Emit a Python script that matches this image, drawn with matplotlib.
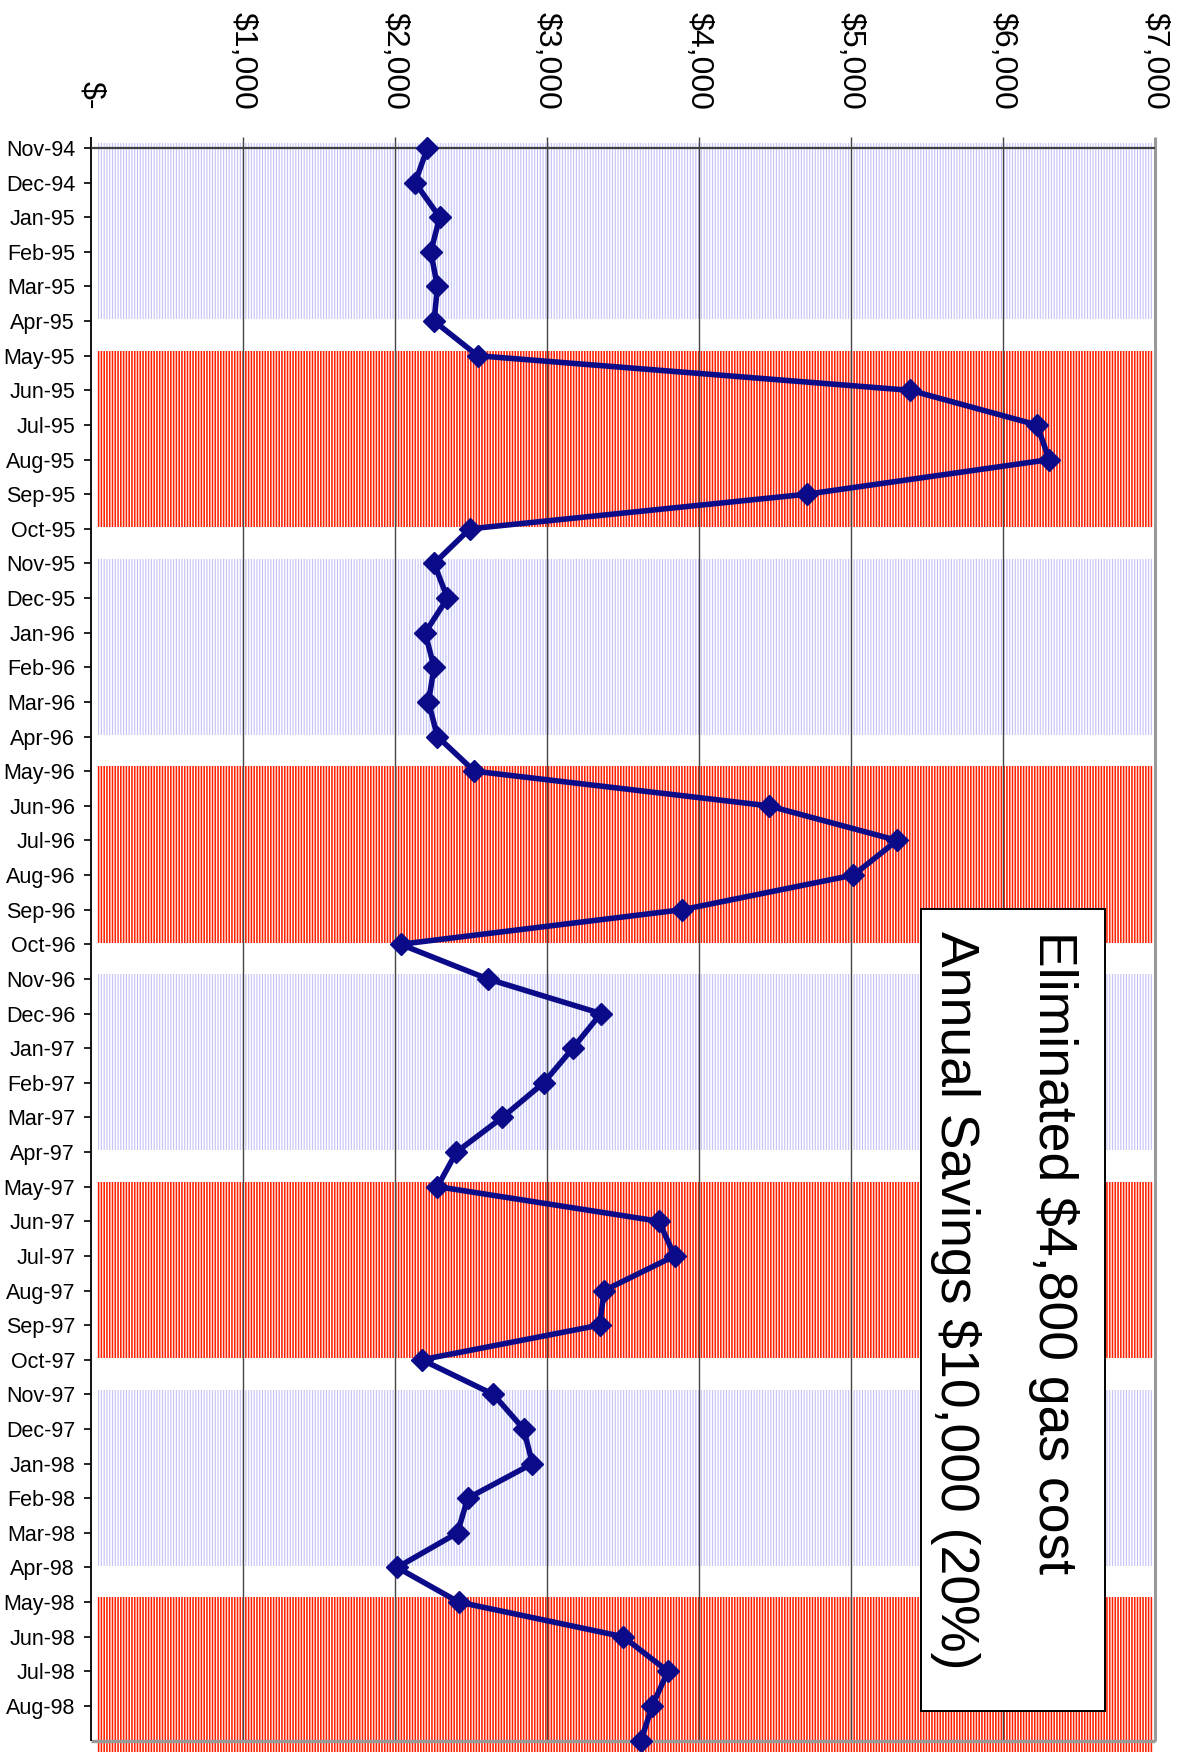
import numpy as np
import matplotlib.pyplot as plt
from matplotlib.patches import Rectangle

plt.rcParams['font.family'] = ['Liberation Sans', 'DejaVu Sans']
plt.rcParams['hatch.linewidth'] = 1.1

# monthly gas cost, Nov-94 .. Sep-98 (last one sits on the cut-off edge)
months = ['Nov-94', 'Dec-94',
          'Jan-95', 'Feb-95', 'Mar-95', 'Apr-95', 'May-95', 'Jun-95',
          'Jul-95', 'Aug-95', 'Sep-95', 'Oct-95', 'Nov-95', 'Dec-95',
          'Jan-96', 'Feb-96', 'Mar-96', 'Apr-96', 'May-96', 'Jun-96',
          'Jul-96', 'Aug-96', 'Sep-96', 'Oct-96', 'Nov-96', 'Dec-96',
          'Jan-97', 'Feb-97', 'Mar-97', 'Apr-97', 'May-97', 'Jun-97',
          'Jul-97', 'Aug-97', 'Sep-97', 'Oct-97', 'Nov-97', 'Dec-97',
          'Jan-98', 'Feb-98', 'Mar-98', 'Apr-98', 'May-98', 'Jun-98',
          'Jul-98', 'Aug-98', 'Sep-98']
gas_cost = [2213, 2132,
            2294, 2235, 2279, 2257, 2544, 5391,
            6223, 6304, 4707, 2492, 2257, 2345,
            2198, 2257, 2220, 2279, 2522, 4457,
            5303, 5016, 3890, 2036, 2610, 3354,
            3170, 2978, 2706, 2404, 2279, 3736,
            3839, 3376, 3346, 2176, 2647, 2846,
            2904, 2478, 2411, 2014, 2419, 3501,
            3795, 3692, 3618]
winter_months = ['Nov', 'Dec', 'Jan', 'Feb', 'Mar', 'Apr']
value_ticks = [0, 1000, 2000, 3000, 4000, 5000, 6000, 7000]
value_labels = ['$-', '$1,000', '$2,000', '$3,000', '$4,000',
                '$5,000', '$6,000', '$7,000']
note_lines = ['Eliminated $4,800 gas cost', 'Annual Savings $10,000 (20%)']

LINE_COL = '#0b0b8a'
SUMMER_COL = '#ff2200'
WINTER_COL = '#c2c2f6'

idx = np.arange(len(months))
n = len(months)
y_top = -0.318
y_bot = n - 1 + 0.33

fig = plt.figure(figsize=(11.79, 17.52), dpi=100)
ax = fig.add_axes([0.0772, 0.0, 0.9025, 0.9218])
ax.set_xlim(value_ticks[0], value_ticks[-1])
ax.set_ylim(y_bot, y_top)
for s in ax.spines.values():
    s.set_visible(False)

# striped season bands (winter blue, summer red)
winter = [m[:3] in winter_months for m in months]
start = 0
for i in range(1, n + 1):
    if i == n or winter[i] != winter[start]:
        top = start - 0.14
        bot = i - 1 - 0.05 if i < n else y_bot + 1
        col = WINTER_COL if winter[start] else SUMMER_COL
        band = ax.fill_betweenx([top, bot], 38, 6988, facecolor='none',
                                edgecolor=col, hatch='||||||', linewidth=0,
                                zorder=1)
        if hasattr(band, 'set_hatch_linewidth'):
            band.set_hatch_linewidth(0.8 if winter[start] else 1.15)
        start = i

# grid and frame
last = n - 1
ax.vlines(value_ticks[1:-1], y_top, last, color='#454545', lw=1.0, zorder=2)
ax.vlines(value_ticks[-1], y_top, last, color='#999999', lw=2.2, zorder=2,
          clip_on=False)
ax.hlines(last, 0, value_ticks[-1], color='#999999', lw=2.4, zorder=2,
          clip_on=False)
ax.vlines(0, y_top, last, color='black', lw=1.3, zorder=3, clip_on=False)
ax.hlines(0, 0, value_ticks[-1], color='#404040', lw=1.6, zorder=3,
          clip_on=False)

ax.plot(gas_cost, idx, color=LINE_COL, lw=4.0, marker='D', ms=11.5,
        mec=LINE_COL, mfc=LINE_COL, zorder=4, clip_on=False)

# value axis across the top, labels turned
ax.set_xticks(value_ticks)
ax.set_xticklabels(value_labels, rotation=-90, fontsize=23)
ax.tick_params(axis='x', top=True, bottom=False, labeltop=True,
               labelbottom=False, length=0, pad=19.5)

ax.set_yticks(idx[:-1])
ax.set_yticklabels(months[:-1], fontsize=15.5)
ax.tick_params(axis='y', length=5, width=1.2, direction='out', pad=6.5,
               color='black')

# note box
ax.add_patch(Rectangle((5461, 21.98), 6671 - 5461, 45.15 - 21.98,
                       facecolor='white', edgecolor='black', lw=1.4,
                       zorder=5))
ax.text(6234, 22.62, note_lines[0], rotation=-90, rotation_mode='anchor',
        ha='left', va='baseline', fontsize=38.5, zorder=6)
ax.text(5589, 22.62, note_lines[1], rotation=-90, rotation_mode='anchor',
        ha='left', va='baseline', fontsize=38.5, zorder=6)

fig.savefig('out.png', dpi=100)
